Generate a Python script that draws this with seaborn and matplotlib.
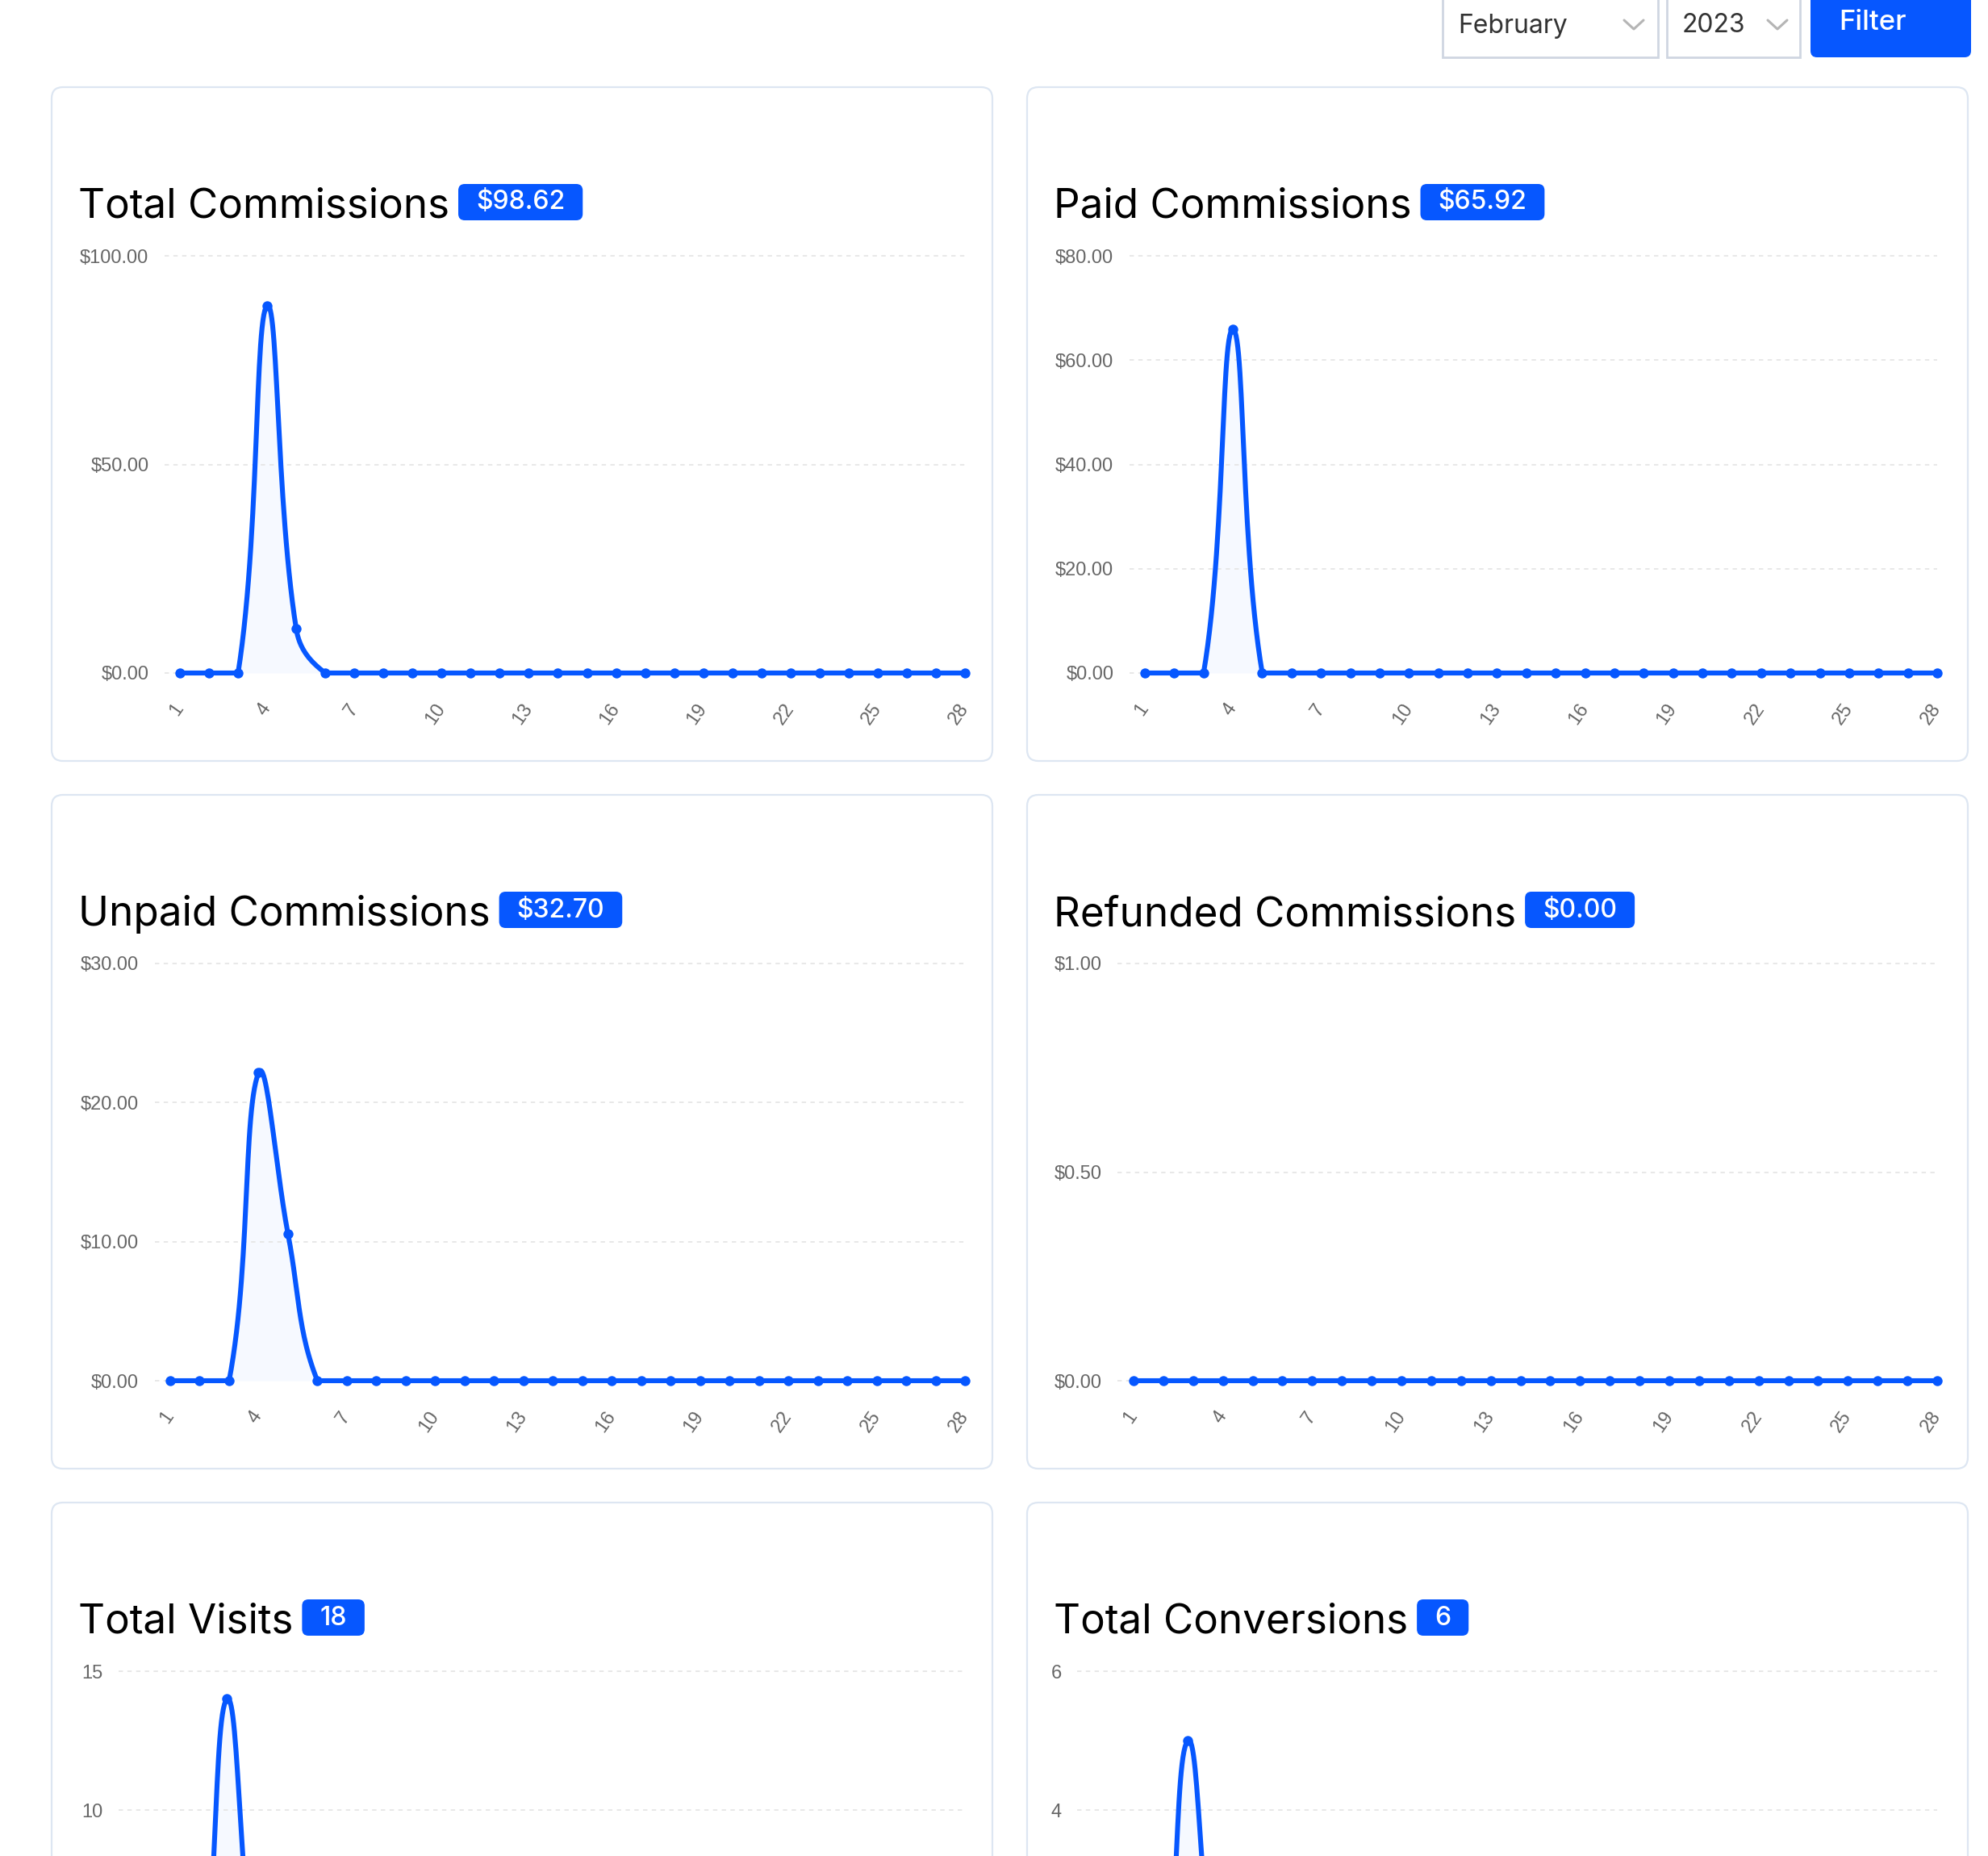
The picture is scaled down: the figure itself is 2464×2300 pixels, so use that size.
import numpy as np
import matplotlib
matplotlib.use("Agg")
import matplotlib.pyplot as plt
import seaborn as sns
from matplotlib.patches import FancyBboxPatch

# ---- data (February 2023) ----
days = [1, 2, 3, 4, 5, 6, 7, 8, 9, 10, 11, 12, 13, 14,
        15, 16, 17, 18, 19, 20, 21, 22, 23, 24, 25, 26, 27, 28]
xtick_days = [1, 4, 7, 10, 13, 16, 19, 22, 25, 28]

total_commissions = [0, 0, 0, 88.06, 10.56, 0, 0, 0, 0, 0, 0, 0, 0, 0,
                     0, 0, 0, 0, 0, 0, 0, 0, 0, 0, 0, 0, 0, 0]
paid_commissions = [0, 0, 0, 65.92, 0, 0, 0, 0, 0, 0, 0, 0, 0, 0,
                    0, 0, 0, 0, 0, 0, 0, 0, 0, 0, 0, 0, 0, 0]
unpaid_commissions = [0, 0, 0, 22.14, 10.56, 0, 0, 0, 0, 0, 0, 0, 0, 0,
                      0, 0, 0, 0, 0, 0, 0, 0, 0, 0, 0, 0, 0, 0]
refunded_commissions = [0, 0, 0, 0, 0, 0, 0, 0, 0, 0, 0, 0, 0, 0,
                        0, 0, 0, 0, 0, 0, 0, 0, 0, 0, 0, 0, 0, 0]
total_visits = [0, 0, 1, 14, 3, 0, 0, 0, 0, 0, 0, 0, 0, 0,
                0, 0, 0, 0, 0, 0, 0, 0, 0, 0, 0, 0, 0, 0]
total_conversions = [0, 0, 0, 5, 1, 0, 0, 0, 0, 0, 0, 0, 0, 0,
                     0, 0, 0, 0, 0, 0, 0, 0, 0, 0, 0, 0, 0, 0]

titles = ["Total Commissions", "Paid Commissions", "Unpaid Commissions",
          "Refunded Commissions", "Total Visits", "Total Conversions"]
badges = ["$98.62", "$65.92", "$32.70", "$0.00", "18", "6"]
series = [total_commissions, paid_commissions, unpaid_commissions,
          refunded_commissions, total_visits, total_conversions]
y_ticks = [[0, 50, 100], [0, 20, 40, 60, 80], [0, 10, 20, 30],
           [0, 0.5, 1], [0, 5, 10, 15], [0, 2, 4, 6]]
money = [True, True, True, True, False, False]

month_label = "February"
year_label = "2023"
button_label = "Filter"

BLUE = "#0657ff"
GRID = "#e6e6e6"
TICK = "#666666"

sns.set_theme(style="white")
plt.rcParams["font.family"] = ["Liberation Sans", "DejaVu Sans"]

W, H = 2464, 2300
fig = plt.figure(figsize=(W / 100, H / 100), dpi=100)
fig.patch.set_facecolor("white")

# background layer in pixel units (y down) for cards / titles / controls
bg = fig.add_axes([0, 0, 1, 1], zorder=0)
bg.set_xlim(0, W)
bg.set_ylim(H, 0)
bg.axis("off")
renderer = fig.canvas.get_renderer()


def chartjs_curve(x, y, sx, sy, ymax, tension=0.4, n=30):
    """Chart.js style spline (tension 0.4, control points capped to chart area)."""
    px = np.asarray(x, float) * sx
    py = np.asarray(y, float) * sy
    m = len(px)
    cprev = np.zeros((m, 2))
    cnext = np.zeros((m, 2))
    for i in range(m):
        p0 = np.array([px[max(i - 1, 0)], py[max(i - 1, 0)]])
        p1 = np.array([px[i], py[i]])
        p2 = np.array([px[min(i + 1, m - 1)], py[min(i + 1, m - 1)]])
        d01 = np.hypot(*(p1 - p0))
        d12 = np.hypot(*(p2 - p1))
        tot = d01 + d12
        s01 = d01 / tot if tot else 0
        s12 = d12 / tot if tot else 0
        cprev[i] = p1 - tension * s01 * (p2 - p0)
        cnext[i] = p1 + tension * s12 * (p2 - p0)
    for c in (cprev, cnext):
        c[:, 0] = np.clip(c[:, 0], px[0], px[-1])
        c[:, 1] = np.clip(c[:, 1], 0, ymax * sy)
    t = np.linspace(0, 1, n)[:, None]
    pts = []
    for i in range(m - 1):
        a = np.array([px[i], py[i]])
        b = np.array([px[i + 1], py[i + 1]])
        seg = ((1 - t) ** 3 * a + 3 * (1 - t) ** 2 * t * cnext[i]
               + 3 * (1 - t) * t ** 2 * cprev[i + 1] + t ** 3 * b)
        pts.append(seg if i == 0 else seg[1:])
    pts = np.vstack(pts)
    return pts[:, 0] / sx, pts[:, 1] / sy


# layout (pixels)
card_x = [(64, 1230), (1273, 2439)]
title_x = [97, 1306]
x_right = [1196, 2401]
x_first = [223, 1419, 211, 1405, 167, 1356]
row_step = 877
chart_axes = []

for k in range(6):
    r, c = divmod(k, 2)
    off = r * row_step

    # card
    cx0, cx1 = card_x[c]
    bg.add_patch(FancyBboxPatch((cx0, 108 + off), cx1 - cx0, 835,
                                boxstyle="round,pad=0,rounding_size=14",
                                fc="white", ec="#dde6f2", lw=1.6))

    # title + badge
    base = 270 + off
    t = bg.text(title_x[c], base, titles[k], fontsize=36.8, family="Inter",
                color="black", va="baseline", ha="left")
    bb = t.get_window_extent(renderer)
    bx0 = bb.x1 + 11
    tb = bg.text(0, base - 19, badges[k], fontsize=23, family="Inter",
                 fontweight="medium", color="white", va="center", ha="center")
    tw = tb.get_window_extent(renderer).width
    bw = tw + 44
    bg.add_patch(FancyBboxPatch((bx0, base - 42), bw, 45,
                                boxstyle="round,pad=0,rounding_size=8",
                                fc=BLUE, ec="none"))
    tb.set_position((bx0 + bw / 2, base - 19))
    tb.set_zorder(5)

    # chart axes
    vals = series[k]
    ymax = y_ticks[k][-1]
    x1, xr = x_first[k], x_right[c]
    sx = (xr - x1) / 27
    left = x1 - 0.53 * sx
    top = 317 + off
    bottom = 834 + off
    ax = fig.add_axes([left / W, 1 - bottom / H, (xr - left) / W, (bottom - top) / H],
                      zorder=2)
    ax.patch.set_alpha(0)
    sy = (bottom - top) / ymax

    cxs, cys = chartjs_curve(days, vals, sx, sy, ymax)
    ax.fill_between(cxs, cys, 0, color=BLUE, alpha=0.035, lw=0)
    sns.lineplot(x=cxs, y=cys, sort=False, estimator=None, color=BLUE,
                 linewidth=4.4, ax=ax, legend=False)
    for ln in ax.lines:
        ln.set_clip_on(False)
        ln.set_solid_capstyle("round")
        ln.set_zorder(3)
    sns.scatterplot(x=days, y=vals, s=80, color=BLUE, linewidth=0, ax=ax,
                    legend=False, zorder=4, clip_on=False)

    ax.hlines(y_ticks[k][1:], 1 - 0.53, 28, colors=GRID, lw=1.3,
              linestyles=(0, (3, 3)), clip_on=False, zorder=1)
    ax.hlines([0], 1 - 0.53, 1, colors=GRID, lw=1.3,
              linestyles=(0, (3, 3)), clip_on=False, zorder=1)

    ax.set_xlim(1 - 0.53, 28)
    ax.set_ylim(0, ymax)
    ax.set_yticks(y_ticks[k])
    if money[k]:
        ax.set_yticklabels([f"${v:.2f}" for v in y_ticks[k]])
    else:
        ax.set_yticklabels([f"{v:g}" for v in y_ticks[k]])
    ax.set_xticks(xtick_days)
    ax.set_xticklabels([str(d) for d in xtick_days])
    ax.tick_params(axis="y", length=0, pad=14, labelsize=17, labelcolor=TICK)
    ax.tick_params(axis="x", length=0, pad=29, labelsize=17, labelcolor=TICK)
    for lab in ax.get_xticklabels():
        lab.set_rotation(55)
        lab.set_rotation_mode("anchor")
        lab.set_ha("right")
        lab.set_va("center")
    ax.grid(False)
    sns.despine(ax=ax, left=True, bottom=True)
    ax.set_xlabel("")
    ax.set_ylabel("")
    chart_axes.append(ax)

# ---- month / year selectors and filter button ----
bg.add_patch(plt.Rectangle((1788, -10), 267, 81, fc="white", ec="#cfd6e1", lw=2))
bg.add_patch(plt.Rectangle((2066, -10), 165, 81, fc="white", ec="#cfd6e1", lw=2))
bg.add_patch(FancyBboxPatch((2244, -30), 199, 101,
                            boxstyle="round,pad=0,rounding_size=8", fc=BLUE, ec="none"))
bg.text(1807, 32, month_label, fontsize=23, family="Inter", color="#333333",
        va="center", ha="left")
bg.text(2085, 32, year_label, fontsize=23, family="Inter", color="#333333",
        va="center", ha="left")
bg.text(2321, 28, button_label, fontsize=25, family="Inter", fontweight="medium",
        color="white", va="center", ha="center")
for cxv in (2025, 2203):
    bg.plot([cxv - 12, cxv, cxv + 12], [25, 36, 25], color="#b5b5b5", lw=2.2,
            solid_capstyle="round")

# the bottom row runs past the screenshot edge: drop tick labels that fall outside
fig.canvas.draw()
for ax in chart_axes:
    for lab in ax.get_xticklabels() + ax.get_yticklabels():
        ext = lab.get_window_extent(renderer)
        if ext.y0 < 0:
            lab.set_visible(False)

fig.savefig("out.png", dpi=100, facecolor="white")
